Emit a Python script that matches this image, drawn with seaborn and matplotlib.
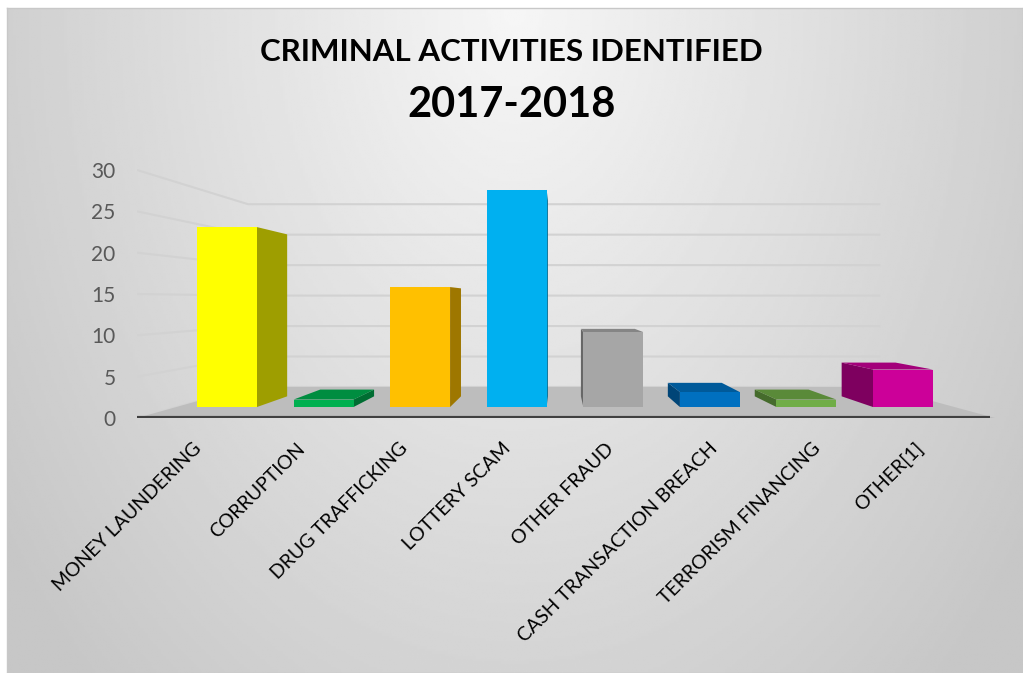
import numpy as np
import pandas as pd
import matplotlib.pyplot as plt
import seaborn as sns
from matplotlib.patches import Polygon
from matplotlib.colors import to_rgb

# -----------------------------------------------------------------------------
# data
# -----------------------------------------------------------------------------
categories = ['MONEY LAUNDERING', 'CORRUPTION', 'DRUG TRAFFICKING', 'LOTTERY SCAM',
              'OTHER FRAUD', 'CASH TRANSACTION BREACH', 'TERRORISM FINANCING', 'OTHER[1]']
counts = [24, 1, 16, 29, 10, 2, 1, 5]
bar_colors = ['#FFFF00', '#00B050', '#FFC000', '#00B0F0',
              '#A6A6A6', '#0070C0', '#70AD47', '#CC0099']
y_ticks = [0, 5, 10, 15, 20, 25, 30]
title_1 = 'CRIMINAL ACTIVITIES IDENTIFIED'
title_2 = '2017-2018'

df = pd.DataFrame({'pos': np.arange(len(categories)), 'cat': categories, 'n': counts})

# -----------------------------------------------------------------------------
# fake 3D settings (perspective towards a vanishing point)
# -----------------------------------------------------------------------------
VX, VY = 3.44, 14.27      # vanishing point
WALL_T = 0.263            # floor depth (front edge -> back wall)
BAR_T = 0.093             # depth of bar front faces
BAR_D = 0.10              # bar depth
LABEL_SPREAD = 1.0676
X0, X1 = -0.932, 7.953    # front edge of the floor
Y_TOP = 32.42


def proj(x, y, t):
    return x + t * (VX - x), y + t * (VY - y)


def shade(c, k):
    r, g, b = to_rgb(c)
    return (r * k, g * k, b * k)


sns.set_style('white')
plt.rcParams['font.family'] = ['Lato', 'DejaVu Sans']

fig = plt.figure(figsize=(10.23, 6.73), dpi=100)
W, H = 1023, 673

# background gradient
bg = fig.add_axes([7 / W, 0, 1016 / W, 665 / H])
gx, gy = np.meshgrid(np.linspace(-1, 1, 400), np.linspace(0, 1, 260))
r = np.sqrt(gx ** 2 + (gy * 0.9) ** 2)
bg.imshow(0.965 - 0.15 * np.clip(r, 0, 1.25), cmap='gray', vmin=0, vmax=1,
          aspect='auto', extent=[0, 1, 0, 1], origin='upper')
bg.set_xticks([])
bg.set_yticks([])
for s in bg.spines.values():
    s.set_color('#c8c8c8')
    s.set_linewidth(1)
bg.set_zorder(0)

# main axes (walls, floor, ticks)
pos = [137 / W, (H - 418) / H, 858 / W, 268 / H]
ax = fig.add_axes(pos)
ax.set_zorder(1)
ax.patch.set_visible(False)
ax.set_xlim(X0, X1)
ax.set_ylim(0, Y_TOP)
for s in ax.spines.values():
    s.set_visible(False)

for v in y_ticks:
    bx0, by = proj(X0, v, WALL_T)
    bx1, _ = proj(X1, v, WALL_T)
    ax.plot([X0, bx0, bx1], [v, by, by], color='#d2d2d2', lw=1.5, zorder=1,
            solid_capstyle='butt')

fl = [(X0, 0), (X1, 0), proj(X1, 0, WALL_T), proj(X0, 0, WALL_T)]
ax.add_patch(Polygon(fl, closed=True, facecolor='#bdbdbd', edgecolor='none', zorder=2))
ax.plot([X0, X1 - 0.05], [0, 0], color='#404040', lw=3, zorder=3, solid_capstyle='butt')

ax.set_yticks(y_ticks)
ax.tick_params(axis='y', length=0, pad=15.5, labelsize=15, labelcolor='#595959')
ax.tick_params(axis='x', length=0, pad=20, labelsize=14, labelcolor='black')

# bars axes
axb = fig.add_axes(pos, sharex=ax)
axb.set_zorder(2)
axb.patch.set_visible(False)
sns.barplot(data=df, x='pos', y='n', hue='cat', palette=bar_colors, native_scale=True,
            width=0.62, saturation=1, legend=False, errorbar=None, linewidth=0, ax=axb)
axb.set_ylim((0 - BAR_T * VY) / (1 - BAR_T), (Y_TOP - BAR_T * VY) / (1 - BAR_T))
axb.set_xlim(X0, X1)
axb.axis('off')

for p, c in zip(axb.patches, bar_colors):
    xl = p.get_x()
    xr = xl + p.get_width()
    h = p.get_height()
    p.set_zorder(3)
    edge = xr if (xl + xr) / 2 < VX else xl
    side = [(edge, 0), (edge, h), proj(edge, h, BAR_D), proj(edge, 0, BAR_D)]
    axb.add_patch(Polygon(side, closed=True, facecolor=shade(c, 0.62),
                          edgecolor='none', zorder=2))
    if h < VY:
        top = [(xl, h), (xr, h), proj(xr, h, BAR_D), proj(xl, h, BAR_D)]
        axb.add_patch(Polygon(top, closed=True, facecolor=shade(c, 0.8),
                              edgecolor='none', zorder=2))

# category labels sit on the front edge of the floor
ax.set_xlim(X0, X1)
label_pos = VX + (df['pos'] - VX) * LABEL_SPREAD - 0.06
ax.set_xticks(label_pos, categories)
for lab in ax.get_xticklabels():
    lab.set_rotation(45)
    lab.set_ha('right')
    lab.set_va('center')
    lab.set_rotation_mode('anchor')

# titles
fig.text(511 / W, 1 - 52 / H, title_1, ha='center', va='center',
         fontsize=22.5, fontweight='bold', color='black')
fig.text(512 / W, 1 - 105 / H, title_2, ha='center', va='center',
         fontsize=30, fontweight='bold', color='black')

fig.savefig('out.png', dpi=100)
